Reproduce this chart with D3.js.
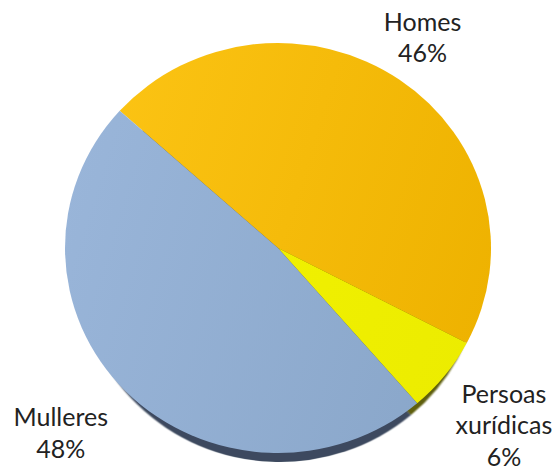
<!DOCTYPE html>
<html>
<head>
<meta charset="utf-8">
<script src="https://cdn.jsdelivr.net/npm/d3@7"></script>
<style>
  html, body { margin: 0; padding: 0; background: #ffffff; }
  svg { display: block; }
  text { font-family: Lato, "Noto Sans", sans-serif; fill: #222222; }
</style>
</head>
<body>
<svg id="chart" width="557" height="472"></svg>
<script>
// Share of each group (percent)
const categories = ["Homes", "Persoas xurídicas", "Mulleres"];
const values = [46, 6, 48];
const labelLines = [["Homes"], ["Persoas", "xurídicas"], ["Mulleres"]];

// Fill colours: light (left) and dark (right) ends of each slice gradient, plus the rim shade
const lightColors = ["#fcc414", "#f4f400", "#99b5d9"];
const darkColors  = ["#eeb200", "#ecec00", "#89a6c9"];
const rimColors   = ["#6e5400", "#5e5e10", "#3c4a5e"];

const width = 557, height = 472;
const cx = 278, cy = 248;
const rx = 213, ry = 205;
const startDeg = -48;

// Rim ellipse: pushed down and slightly shrunk so it shows only along the bottom
const rimShiftX = 2, rimShiftY = 22, rimInset = 13;

// Label block centre, offset from the slice's outer edge at its mid-angle
const labelOffset = {
  "Homes": [23, -42],
  "Persoas xurídicas": [59, 50],
  "Mulleres": [-65, 42]
};

const svg = d3.select("#chart");
const defs = svg.append("defs");

categories.forEach((c, i) => {
  const g = defs.append("linearGradient")
    .attr("id", "grad" + i)
    .attr("gradientUnits", "userSpaceOnUse")
    .attr("x1", -rx).attr("y1", -rx * 0.3)
    .attr("x2", rx).attr("y2", rx * 0.3);
  g.append("stop").attr("offset", "0%").attr("stop-color", lightColors[i]);
  g.append("stop").attr("offset", "100%").attr("stop-color", darkColors[i]);
});

defs.append("filter").attr("id", "soft")
  .append("feGaussianBlur").attr("stdDeviation", 0.8);

const pie = d3.pie()
  .sort(null)
  .value(d => d)
  .startAngle(startDeg * Math.PI / 180)
  .endAngle(startDeg * Math.PI / 180 + 2 * Math.PI);

const arcs = pie(values);
const arc = d3.arc().innerRadius(0).outerRadius(rx);
const rimArc = d3.arc().innerRadius(0).outerRadius(rx - rimInset);

// Rim underneath the pie, seen along the lower edge
const rim = svg.append("g")
  .attr("transform", `translate(${cx + rimShiftX},${cy + rimShiftY}) scale(1,${(ry - rimInset) / (rx - rimInset)})`)
  .attr("filter", "url(#soft)");
rim.selectAll("path")
  .data(arcs)
  .join("path")
  .attr("d", rimArc)
  .attr("fill", (d, i) => rimColors[i]);

// Pie face
const face = svg.append("g")
  .attr("transform", `translate(${cx},${cy}) scale(1,${ry / rx})`);
face.selectAll("path")
  .data(arcs)
  .join("path")
  .attr("d", arc)
  .attr("fill", (d, i) => `url(#grad${i})`);

// Data labels
const fontSize = 25, lineHeight = 31.5;
arcs.forEach((d, i) => {
  const mid = (d.startAngle + d.endAngle) / 2;
  const off = labelOffset[categories[i]];
  const x = cx + rx * Math.sin(mid) + off[0];
  const y = cy - ry * Math.cos(mid) + off[1];
  const lines = labelLines[i].concat([values[i] + "%"]);
  const top = y - (lines.length - 1) * lineHeight / 2;
  const t = svg.append("text")
    .attr("text-anchor", "middle")
    .attr("font-size", fontSize);
  lines.forEach((s, j) => {
    t.append("tspan")
      .attr("x", x)
      .attr("y", top + j * lineHeight)
      .attr("dy", "0.35em")
      .text(s);
  });
});
</script>
</body>
</html>
